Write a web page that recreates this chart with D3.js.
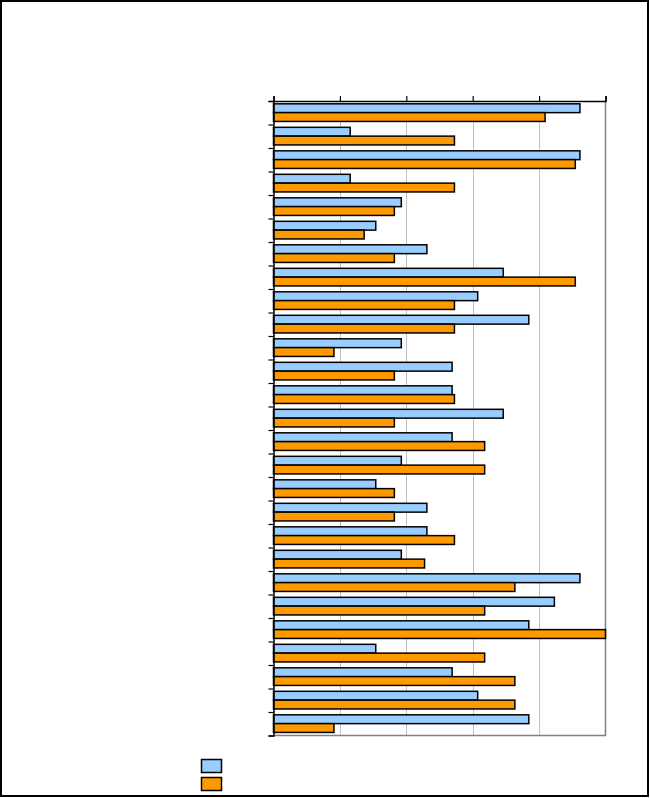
<!DOCTYPE html>
<html>
<head>
<meta charset="utf-8">
<script src="https://cdn.jsdelivr.net/npm/d3@7"></script>
<style>
  html, body { margin: 0; padding: 0; background: #fff; }
  svg { display: block; }
</style>
</head>
<body>
<svg id="chart" width="650" height="798"></svg>
<script>
// Data (percentages; blue series n/13, orange series n/11)
const categories = ["1","2","3","4","5","6","7","8","9","10","11","12","13","14","15","16","17","18","19","20","21","22","23","24","25","26","27"];
const seriesA = [92.3, 23.1, 92.3, 23.1, 38.5, 30.8, 46.2, 69.2, 61.5, 76.9, 38.5, 53.8, 53.8, 69.2, 53.8, 38.5, 30.8, 46.2, 46.2, 38.5, 92.3, 84.6, 76.9, 30.8, 53.8, 61.5, 76.9];
const seriesB = [81.8, 54.5, 90.9, 54.5, 36.4, 27.3, 36.4, 90.9, 54.5, 54.5, 18.2, 36.4, 54.5, 36.4, 63.6, 63.6, 36.4, 36.4, 54.5, 45.5, 72.7, 63.6, 100, 63.6, 72.7, 72.7, 18.2];
const xTicks = [0, 20, 40, 60, 80, 100];
const seriesNames = ["A", "B"];
const colors = ["#99ccff", "#ff9900"];

(function () {
const svg = d3.select("#chart");
const pLeft = 273.5, pRight = 605.5, pTop = 101, pBottom = 735.5;

const x = d3.scaleLinear().domain([0, 100]).range([pLeft, pRight]);
const y = d3.scaleBand().domain(categories).range([pTop, pBottom]).paddingInner(0).paddingOuter(0);
const yIdx = d3.scaleLinear().domain([0, categories.length]).range([pTop, pBottom]);

// outer frame
svg.append("rect").attr("x", 1).attr("y", 1).attr("width", 647).attr("height", 795)
  .attr("fill", "none").attr("stroke", "#000").attr("stroke-width", 2);

// plot area background
svg.append("rect").attr("x", pLeft).attr("y", pTop).attr("width", pRight - pLeft).attr("height", pBottom - pTop)
  .attr("fill", "#fff");

// gridlines
svg.append("g").selectAll("line").data(xTicks.slice(1, -1)).join("line")
  .attr("x1", d => Math.round(x(d)) + 0.5).attr("x2", d => Math.round(x(d)) + 0.5)
  .attr("y1", pTop).attr("y2", pBottom)
  .attr("stroke", "#c0c0c0").attr("stroke-width", 1);

// plot border right & bottom (gray)
svg.append("path")
  .attr("d", `M${pRight},${pTop}V${pBottom}H${pLeft}`)
  .attr("fill", "none").attr("stroke", "#808080").attr("stroke-width", 1.5);

// bars
const band = y.bandwidth();
const barH = band * 0.375;
const off = band * 0.12;
const g = svg.append("g");
[seriesA, seriesB].forEach((vals, si) => {
  g.selectAll(null).data(vals).join("rect")
    .attr("x", x(0))
    .attr("y", (d, i) => y(categories[i]) + off + si * barH)
    .attr("width", d => x(d) - x(0))
    .attr("height", barH)
    .attr("fill", colors[si])
    .attr("stroke", "#000")
    .attr("stroke-width", 1.5);
});

// top axis
svg.append("g").attr("transform", `translate(0,${pTop})`)
  .call(d3.axisTop(x).tickValues(xTicks).tickSize(5).tickFormat(""))
  .call(s => s.select(".domain").attr("stroke", "#000").attr("stroke-width", 1.5))
  .call(s => s.selectAll(".tick line").attr("stroke", "#000").attr("stroke-width", 1.2));

// left axis (ticks at category boundaries)
svg.append("g").attr("transform", `translate(${pLeft},0)`)
  .call(d3.axisLeft(yIdx).tickValues(d3.range(0, categories.length + 1)).tickSize(5).tickFormat(""))
  .call(s => s.select(".domain").attr("stroke", "#000").attr("stroke-width", 1.5))
  .call(s => s.selectAll(".tick line").attr("stroke", "#000").attr("stroke-width", 1.2));

// legend
const legend = svg.append("g").attr("transform", "translate(201.5,759.5)");
seriesNames.forEach((n, i) => {
  legend.append("rect").attr("x", 0).attr("y", i * 18).attr("width", 20).attr("height", 13)
    .attr("fill", colors[i]).attr("stroke", "#000").attr("stroke-width", 1.5);
});
})();
</script>
</body>
</html>
